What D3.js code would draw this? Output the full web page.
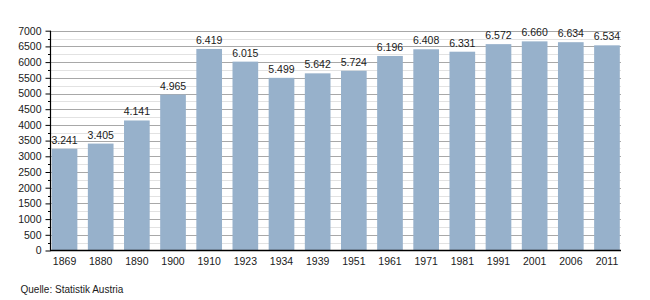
<!DOCTYPE html>
<html><head><meta charset="utf-8">
<script src="https://cdn.jsdelivr.net/npm/d3@7"></script>
<style>body{margin:0;background:#fff}svg{display:block;font-family:"Liberation Sans",Arial,sans-serif}</style>
</head><body><svg id="c" width="650" height="300"></svg>
<script>
const years = ["1869","1880","1890","1900","1910","1923","1934","1939","1951","1961","1971","1981","1991","2001","2006","2011"];
const population = [3241,3405,4141,4965,6419,6015,5499,5642,5724,6196,6408,6331,6572,6660,6634,6534];
const labels = ["3.241","3.405","4.141","4.965","6.419","6.015","5.499","5.642","5.724","6.196","6.408","6.331","6.572","6.660","6.634","6.534"];
const yTicks = [0,500,1000,1500,2000,2500,3000,3500,4000,4500,5000,5500,6000,6500,7000];
const yMinor = [250,750,1250,1750,2250,2750,3250,3750,4250,4750,5250,5750,6250,6750];
const source = "Quelle: Statistik Austria";

const svg = d3.select("#c");
const L = 50.5, R = 621, T = 30.7, B = 250.5;
const x = d3.scaleBand().domain(years).range([L, R]).paddingInner(0.29).paddingOuter(0.033);
const y = d3.scaleLinear().domain([0, 7000]).range([B, T]);

// grid
svg.append("g").selectAll("line").data(yMinor).join("line")
  .attr("x1", L).attr("x2", R).attr("y1", d => Math.round(y(d)) + 0.5).attr("y2", d => Math.round(y(d)) + 0.5)
  .attr("stroke", "#e2e2e2").attr("stroke-width", 1);
svg.append("g").selectAll("line").data(yTicks.slice(1)).join("line")
  .attr("x1", L).attr("x2", R).attr("y1", d => Math.round(y(d)) + 0.5).attr("y2", d => Math.round(y(d)) + 0.5)
  .attr("stroke", "#a8a8a8").attr("stroke-width", 1);

// bars
svg.append("g").selectAll("rect").data(population).join("rect")
  .attr("x", (d, i) => x(years[i])).attr("width", x.bandwidth())
  .attr("y", d => y(d)).attr("height", d => B - y(d))
  .attr("fill", "#97b1cb");

// value labels
svg.append("g").selectAll("text").data(population).join("text")
  .attr("x", (d, i) => x(years[i]) + x.bandwidth() / 2)
  .attr("y", d => y(d) - 5)
  .attr("text-anchor", "middle").attr("font-size", "10.5px").attr("fill", "#1a1a1a")
  .text((d, i) => labels[i]);

// y axis
const yAxis = d3.axisLeft(y).tickValues(yTicks).tickSize(5).tickPadding(4).tickFormat(d3.format("d"));
const gy = svg.append("g").attr("transform", `translate(${L},0)`).call(yAxis);
gy.select(".domain").remove();
gy.selectAll("text").attr("font-size", "10.5px").attr("fill", "#1a1a1a").attr("font-family", "Liberation Sans, Arial, sans-serif");
gy.selectAll(".tick line").attr("stroke", "#000");
svg.append("g").selectAll("line").data(yMinor).join("line")
  .attr("x1", L - 2.5).attr("x2", L).attr("y1", d => Math.round(y(d)) + 0.5).attr("y2", d => Math.round(y(d)) + 0.5)
  .attr("stroke", "#000");
svg.append("line").attr("x1", L).attr("x2", L).attr("y1", T).attr("y2", B).attr("stroke", "#000").attr("stroke-width", 1.2);

// x axis
const xAxis = d3.axisBottom(x).tickSize(0).tickPadding(7);
const gx = svg.append("g").attr("transform", `translate(0,${B})`).call(xAxis);
gx.select(".domain").remove();
gx.selectAll("text").attr("font-size", "10.5px").attr("fill", "#1a1a1a").attr("font-family", "Liberation Sans, Arial, sans-serif");
svg.append("line").attr("x1", L - 0.5).attr("x2", R).attr("y1", B).attr("y2", B).attr("stroke", "#000").attr("stroke-width", 1.5);

svg.append("text").attr("x", 20.5).attr("y", 293).attr("font-size", "10px").attr("fill", "#1a1a1a").text(source);
</script></body></html>
